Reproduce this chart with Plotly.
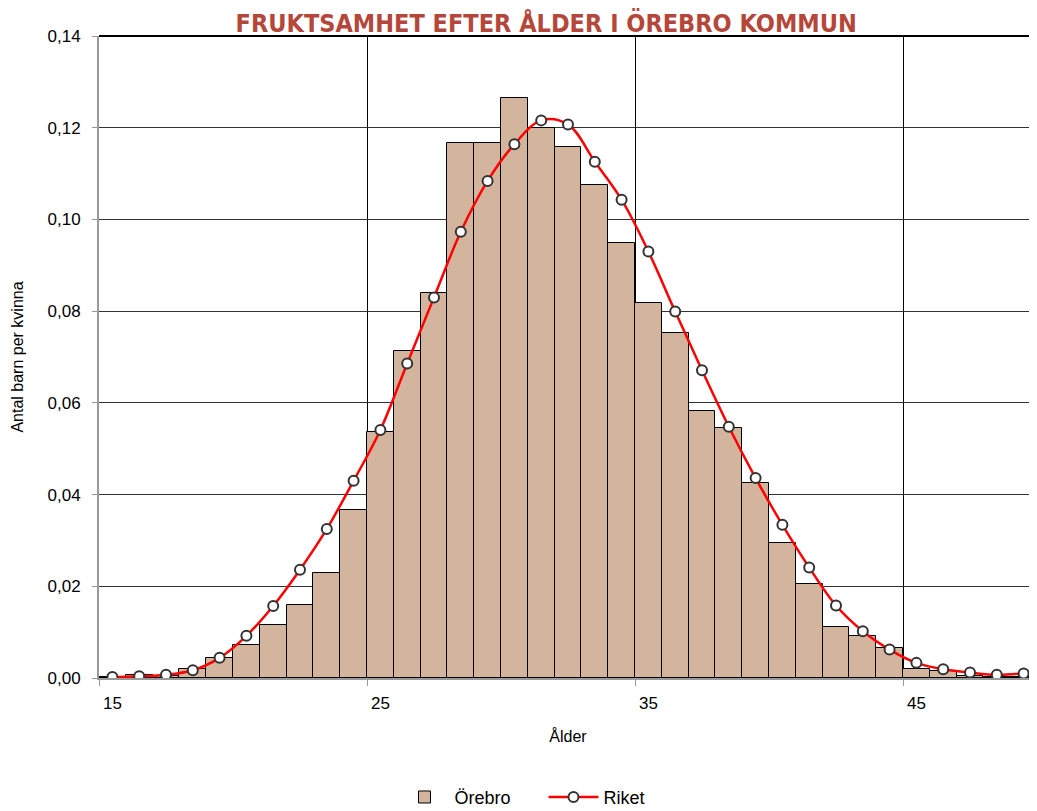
import plotly.graph_objects as go

ages = list(range(15, 50))
orebro = [0.0002, 0.0007, 0.0005, 0.0020, 0.0043, 0.0073, 0.0116, 0.0159, 0.0228, 0.0366,
          0.0537, 0.0714, 0.0840, 0.1166, 0.1166, 0.1264, 0.1200, 0.1159, 0.1074, 0.0949,
          0.0817, 0.0752, 0.0582, 0.0546, 0.0425, 0.0294, 0.0204, 0.0112, 0.0091, 0.0065,
          0.0019, 0.0015, 0.0005, 0.0002, 0.0002]
riket = [0.0002, 0.0004, 0.0007, 0.0017, 0.0044, 0.0092, 0.0157, 0.0236, 0.0325, 0.0430,
         0.0541, 0.0686, 0.0830, 0.0973, 0.1084, 0.1164, 0.1216, 0.1207, 0.1126, 0.1043,
         0.0930, 0.0799, 0.0671, 0.0548, 0.0436, 0.0334, 0.0241, 0.0158, 0.0102, 0.0062,
         0.0033, 0.0019, 0.0012, 0.0007, 0.0010]
x_ticks = [15, 25, 35, 45]

fig = go.Figure()
fig.add_trace(go.Bar(
    x=ages, y=orebro, name="Örebro",
    marker=dict(color="#D3B59D", line=dict(color="#000000", width=1)),
))
fig.add_trace(go.Scatter(
    x=ages, y=riket, name="Riket", mode="lines+markers",
    line=dict(color="#FF0000", width=2.5, shape="spline"),
    marker=dict(symbol="circle", size=10, color="#FFFFFF", line=dict(color="#333333", width=2)),
))

fig.update_layout(
    width=1029, height=803,
    margin=dict(l=91, r=0, t=28, b=133, autoexpand=False),
    paper_bgcolor="#FFFFFF", plot_bgcolor="#FFFFFF",
    separators=", ",
    bargap=0,
    font=dict(family="Liberation Sans", size=17, color="#000000"),
    title=dict(text="<b>FRUKTSAMHET EFTER ÅLDER I ÖREBRO KOMMUN</b>",
               font=dict(family="DejaVu Sans Condensed, Roboto Condensed, Liberation Sans Narrow, sans-serif",
                         size=25, color="#B5473A"),
               x=0.523, xanchor="center", y=0.992, yanchor="top"),
    xaxis=dict(range=[14.5, 49.5], tickvals=x_ticks, showgrid=False, automargin=False,
               ticks="", showline=True, linecolor="#999999", linewidth=2,
               ticklabelstandoff=9,
               title=dict(text="Ålder", font=dict(size=16), standoff=18),
               minor=dict(tick0=14.5, dtick=10, showgrid=True, gridcolor="#000000",
                          gridwidth=1, ticks="outside", ticklen=6, tickcolor="#999999"),
               zeroline=False, tickfont=dict(size=17)),
    yaxis=dict(range=[0, 0.14], dtick=0.02, tickformat=".2f", showgrid=True, automargin=False,
               gridcolor="#333333", gridwidth=1, showline=True, linecolor="#999999",
               linewidth=2, ticks="outside", ticklen=5, tickcolor="#999999",
               ticklabelstandoff=8,
               zeroline=False, title=dict(text="Antal barn per kvinna", font=dict(size=16), standoff=20),
               tickfont=dict(size=17)),
    legend=dict(orientation="h", x=0.315, xanchor="left", y=-0.157, yanchor="top",
                font=dict(size=18), traceorder="normal", itemwidth=50,
                entrywidth=84, entrywidthmode="pixels"),
    showlegend=True,
)
fig.add_shape(type="line", xref="paper", yref="paper", x0=0, x1=1, y0=1, y1=1,
              line=dict(color="#000000", width=2))

fig.write_html("out.html")
